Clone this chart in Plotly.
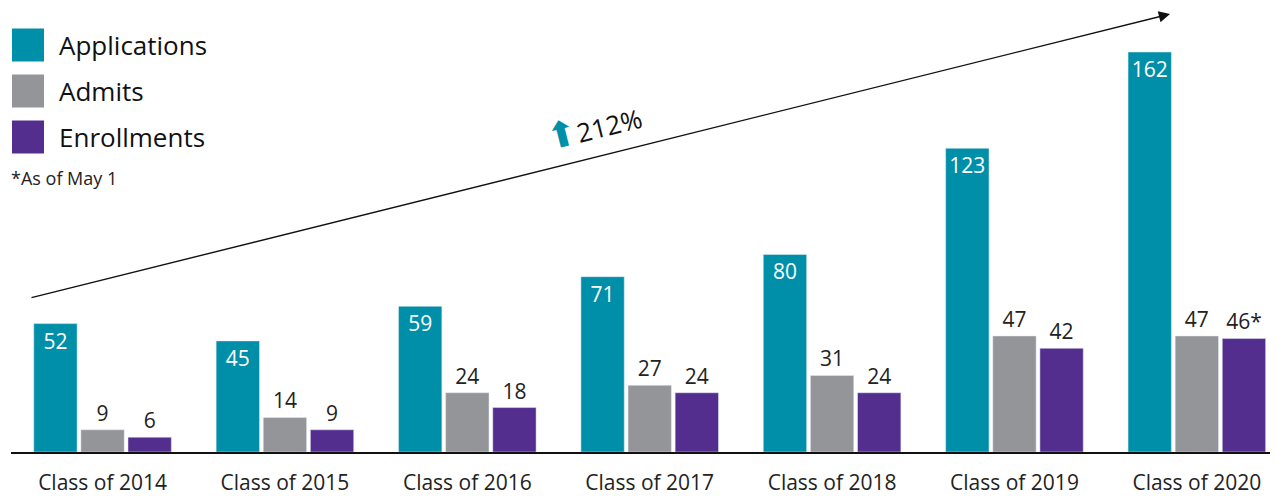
import plotly.graph_objects as go

classes = ["Class of 2014", "Class of 2015", "Class of 2016", "Class of 2017",
           "Class of 2018", "Class of 2019", "Class of 2020"]
applications = [52, 45, 59, 71, 80, 123, 162]
admits = [9, 14, 24, 27, 31, 47, 47]
enrollments = [6, 9, 18, 24, 24, 42, 46]
enroll_labels = ["6", "9", "18", "24", "24", "42", "46*"]

TEAL = "#008FA8"
GRAY = "#939598"
PURPLE = "#532E8E"
FONT = "Open Sans"

# page offset: the browser puts the figure 8px in from the top-left corner
OFF = 8
PLOT_L, PLOT_W = 11, 1267
PLOT_T, PLOT_B = OFF, 452


def px(x):
    return (x - PLOT_L) / PLOT_W


def py(y):
    return (PLOT_B - y) / (PLOT_B - PLOT_T)


fig = go.Figure()
fig.add_trace(go.Bar(x=classes, y=applications, name="Applications",
                     marker_color=TEAL, text=applications, textposition="inside",
                     insidetextanchor="end",
                     textfont=dict(color="white", size=21, family=FONT)))
fig.add_trace(go.Bar(x=classes, y=admits, name="Admits", marker_color=GRAY,
                     text=admits, textposition="outside",
                     textfont=dict(color="#222", size=21, family=FONT)))
fig.add_trace(go.Bar(x=classes, y=enrollments, name="Enrollments",
                     marker_color=PURPLE, text=enroll_labels, textposition="outside",
                     textfont=dict(color="#222", size=21, family=FONT)))

# legend drawn by hand to get the large squares
legend_items = [("Applications", TEAL), ("Admits", GRAY), ("Enrollments", PURPLE)]
for i, (name, col) in enumerate(legend_items):
    yc = 45 + 46 * i
    fig.add_shape(type="rect", xref="paper", yref="paper",
                  x0=px(12), x1=px(44), y0=py(yc + 16.5), y1=py(yc - 16.5),
                  fillcolor=col, line_width=0)
    fig.add_annotation(text=name, xref="paper", yref="paper",
                       x=px(57), y=py(yc), xanchor="left",
                       yanchor="middle", showarrow=False,
                       font=dict(size=26, color="#111", family=FONT))

fig.add_annotation(text="*As of May 1", xref="paper", yref="paper",
                   x=px(9), y=py(178), xanchor="left", yanchor="middle",
                   showarrow=False, font=dict(size=18, color="#222", family=FONT))

# growth arrow
fig.add_annotation(xref="x domain", yref="y domain",
                   axref="x domain", ayref="y domain",
                   x=px(1170), y=py(14), ax=px(30), ay=py(298),
                   text="", showarrow=True, arrowhead=2, arrowsize=1.6,
                   arrowwidth=1.4, arrowcolor="#111")
fig.add_annotation(
    text=("<span style='color:%s;font-family:DejaVu Sans;font-size:36px'>⬆</span>"
          "212%%" % TEAL),
    xref="paper", yref="paper", x=px(594), y=py(93), textangle=-14,
    showarrow=False, font=dict(size=26, color="#111", family=FONT))

fig.update_layout(
    width=1278, height=496,
    margin=dict(l=PLOT_L - OFF, r=OFF, t=0, b=496 - (PLOT_B - OFF)),
    plot_bgcolor="white", paper_bgcolor="white",
    showlegend=False,
    barmode="group", bargap=0.225, bargroupgap=0.08,
    font=dict(family=FONT),
)
fig.update_xaxes(range=[-0.502, 6.445], showline=True, linecolor="#111",
                 linewidth=2, ticks="", ticklabelstandoff=11,
                 tickfont=dict(size=21, color="#222", family=FONT))
fig.update_yaxes(range=[0, (PLOT_B - PLOT_T) / 2.469], visible=False)

fig.write_html("out.html")
